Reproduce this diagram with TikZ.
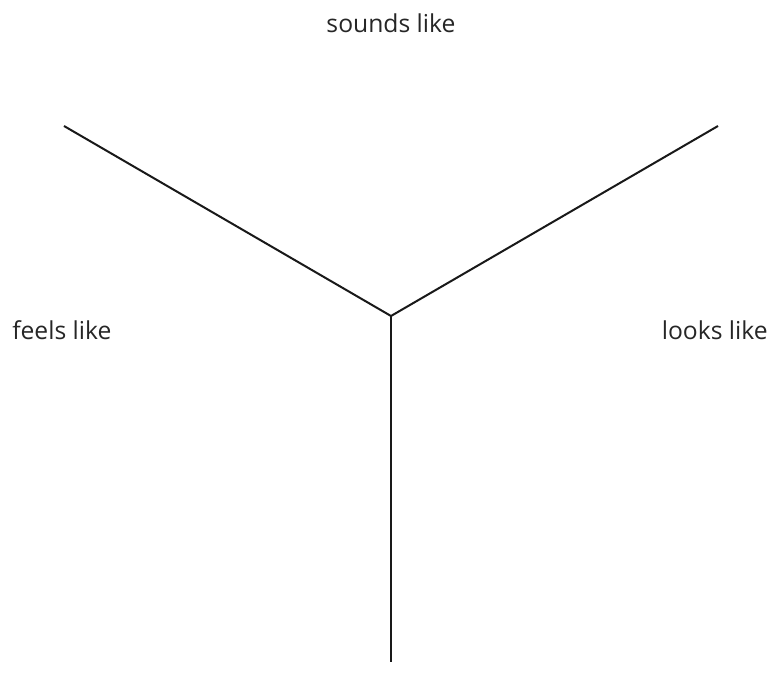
\documentclass[tikz,border=0pt]{standalone}
\usepackage{fontspec}
\setmainfont{Open Sans}
\usepackage{tikz}
\begin{document}
\begin{tikzpicture}[x=0.75pt,y=-0.75pt,
  lbl/.style={font=\fontsize{18.5}{22}\selectfont,text=black!85,inner sep=0pt,anchor=base},
  arm/.style={draw=black!90,line width=1.5pt}]
\useasboundingbox (0,0) rectangle (772,691);
\coordinate (hub) at (391,316);
\coordinate (top-l) at (64,126);
\coordinate (top-r) at (718,126);
\coordinate (foot) at (391,662);
\node[lbl] (sounds) at (391,33) {sounds like};
\node[lbl,anchor=base west] (feels) at (12,340) {feels like};
\node[lbl,anchor=base east] (looks) at (768,340) {looks like};
\draw[arm] (top-l) -- (hub) -- (top-r);
\draw[arm] (hub) -- (foot);
\end{tikzpicture}
\end{document}
